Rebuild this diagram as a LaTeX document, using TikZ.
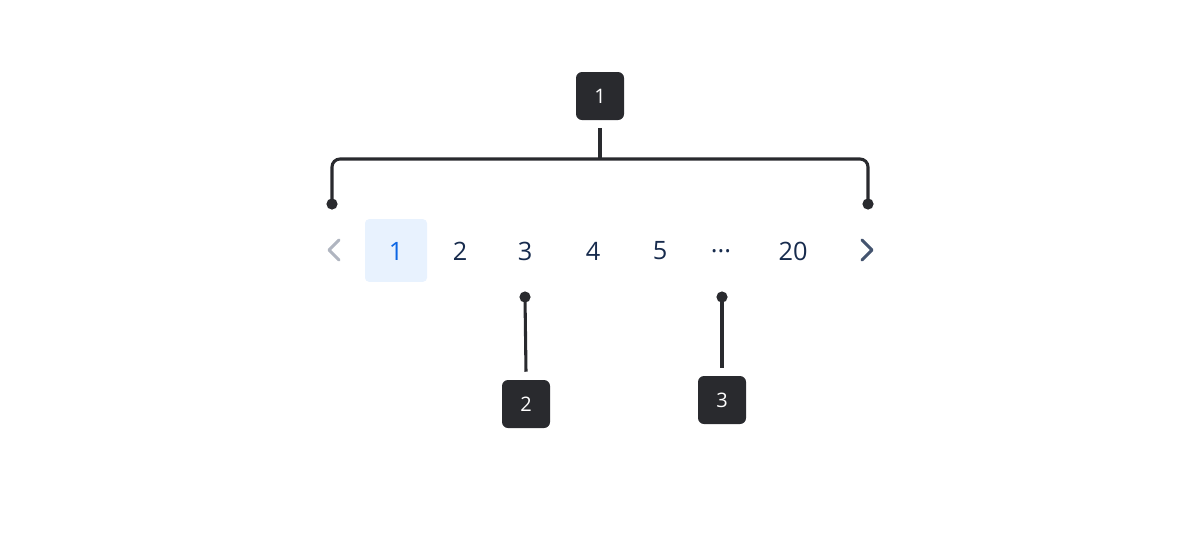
\documentclass[tikz,border=0pt]{standalone}
\usepackage{fontspec}
\setmainfont{Open Sans}
\usetikzlibrary{positioning}
\definecolor{badge}{RGB}{41,42,46}
\definecolor{pagetext}{RGB}{23,43,77}
\definecolor{selblue}{RGB}{12,102,228}
\definecolor{selfill}{RGB}{232,242,254}
\definecolor{chevoff}{RGB}{176,181,192}
\definecolor{chevon}{RGB}{68,84,111}
\tikzset{
  badge/.style={fill=badge, text=white, rounded corners=4.5pt, minimum size=36pt, inner sep=0pt, font=\fontsize{15}{15}\selectfont},
  page/.style={text=pagetext, inner sep=0pt, font=\fontsize{19}{19}\selectfont},
  lead/.style={line width=2.3pt, draw=badge},
  chev/.style={line width=2.2pt, line cap=round, line join=round}
}
\begin{document}
\begin{tikzpicture}[x=0.75pt, y=-0.75pt]
	\useasboundingbox (0,0) rectangle (1200,540);
	% pages
	\node [fill=selfill, rounded corners=3pt, minimum width=46.5pt, minimum height=47pt] (sel) at (396,250.5) {};
	\node [page, text=selblue] (p1) at (396,251) {1};
	\foreach \n/\x in {2/460,3/525,4/593,5/660,20/793} {
		\node [page] (p\n) at (\x,251) {\n};
	}
	\node [page] (dots) at (721,251) {...};
	% chevrons
	\draw [chev, chevoff] (339,240) -- (329,250) -- (339,260);
	\draw [chev, chevon] (862,240) -- (872,250) -- (862,260);
	% badges
	\node [badge] (b1) at (600,96) {1};
	\node [badge] (b2) at (526,404) {2};
	\node [badge] (b3) at (722,400) {3};
	% leaders
	\coordinate (l) at (332,204);
	\coordinate (r) at (868,204);
	\coordinate (top) at (600,159);
	\coordinate (d3) at (525,297);
	\coordinate (d5) at (722,297);
	\draw [lead] ([yshift=-6pt]b1.south) -- (top);
	\draw [lead, rounded corners=6pt] (l) |- (top) -| (r);
	\draw [lead] (d3) -- ([yshift=6pt]b2.north);
	\draw [lead] (d5) -- ([yshift=6pt]b3.north);
	\foreach \c in {l,r,d3,d5} {
		\fill [badge] (\c) circle (4.2pt);
	}
\end{tikzpicture}
\end{document}
